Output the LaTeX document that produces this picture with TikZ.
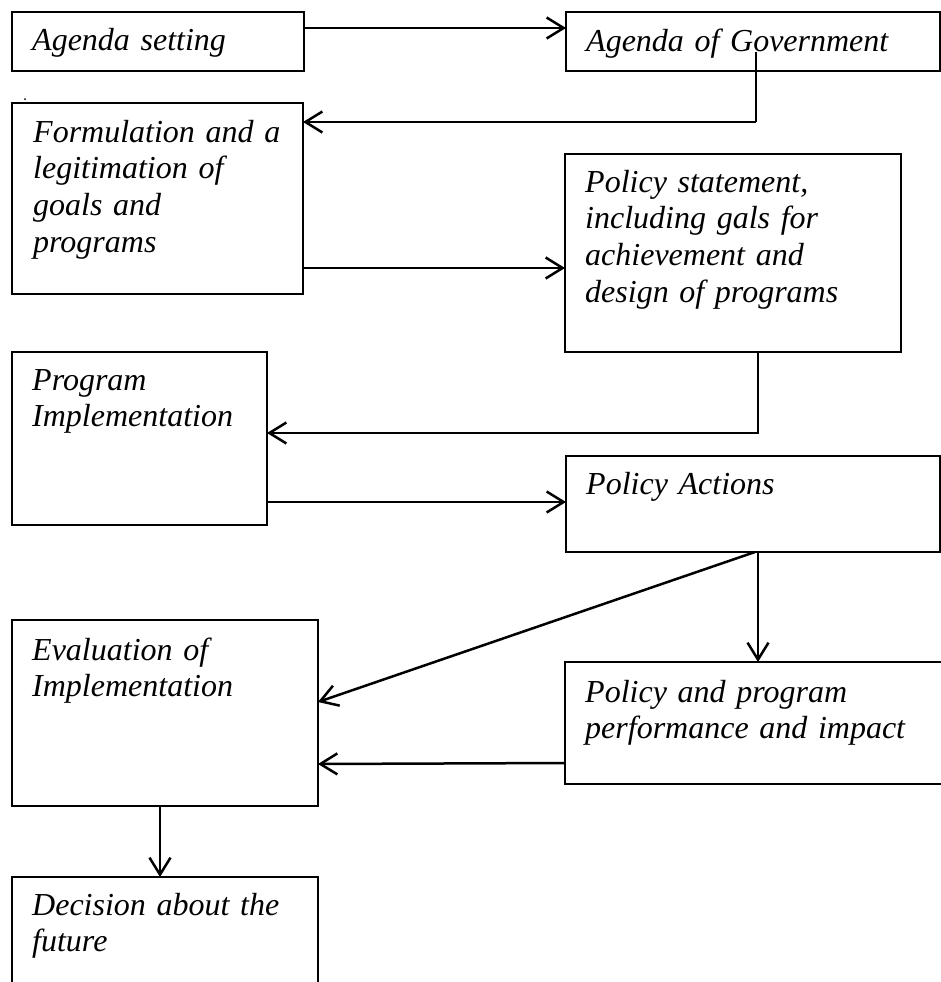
\documentclass[tikz,border=0pt]{standalone}
\usepackage{fontspec}
\setmainfont{Liberation Serif}
\usetikzlibrary{arrows.meta,calc}
\begin{document}
\begin{tikzpicture}[x=1pt,y=-1pt,
  box/.style={draw, line width=1.4pt, rectangle, inner sep=0pt, outer sep=0pt, anchor=north west},
  txt/.style={anchor=base west, inner sep=0pt, text width=420pt, align=left, font=\fontsize{32}{36.8}\selectfont\itshape},
  arr/.style={line width=2.5pt, -{Straight Barb[length=17pt,width=21pt]}},
  thinlink/.style={line width=1.5pt}]
\useasboundingbox (0,0) rectangle (941,982);
\clip (0,0) rectangle (941,982);
% boxes
\node[box, minimum width=292pt, minimum height=59pt]  (b1) at (12,12)  {};
\node[box, minimum width=374pt, minimum height=59pt]  (b2) at (566,12) {};
\node[box, minimum width=291pt, minimum height=191pt] (b3) at (12,103) {};
\node[box, minimum width=336pt, minimum height=198pt] (b4) at (565,154) {};
\node[box, minimum width=255pt, minimum height=173pt] (b5) at (12,352) {};
\node[box, minimum width=374pt, minimum height=96pt]  (b6) at (566,456) {};
\node[box, minimum width=400pt, minimum height=122pt] (b7) at (565,662) {};
\node[box, minimum width=306pt, minimum height=186pt] (b8) at (12,620) {};
\node[box, minimum width=306pt, minimum height=150pt] (b9) at (12,877) {};
% texts
\node[txt] (t1) at ($(b1.north west)+(20,39)$) {Agenda setting};
\node[txt] (t2) at ($(b2.north west)+(20,40)$) {Agenda of Government};
\node[txt] (t3) at ($(b3.north west)+(21,39)$) {Formulation and a\\legitimation of\\goals and\\programs};
\node[txt] (t4) at ($(b4.north west)+(20,38)$) {Policy statement,\\including gals for\\achievement and\\design of programs};
\node[txt] (t5) at ($(b5.north west)+(20,38)$) {Program\\Implementation};
\node[txt] (t6) at ($(b6.north west)+(20,38)$) {Policy Actions};
\node[txt] (t7) at ($(b7.north west)+(20,40)$) {Policy and program\\performance and impact};
\node[txt] (t8) at ($(b8.north west)+(20,40)$) {Evaluation of\\Implementation};
\node[txt] (t9) at ($(b9.north west)+(20,38)$) {Decision about the\\future};
% stray mark
\fill (25,99) circle (1pt);
% connectors
\draw[arr] ($(b1.north east)+(0,16)$) -- ($(b2.north west)+(0,16)$);
\coordinate (g1) at ($(b2.north west)+(190,40)$);
\coordinate (g2) at ($(b2.north west)+(190,110)$);
\draw[thinlink] (g1) -- (g2);
\draw[arr] (g2) -- (g2 -| b3.east);
\draw[arr] ($(b3.north east)+(0,165)$) -- ($(b4.north west)+(0,114)$);
\coordinate (p1) at ($(b4.south west)+(193,0)$);
\coordinate (p2) at ($(b4.south west)+(193,81)$);
\draw[arr] (p1) -- (p2) -- (p2 -| b5.east);
\draw[arr] ($(b5.north east)+(0,150)$) -- ($(b6.north west)+(0,46)$);
\coordinate (q1) at ($(b6.south west)+(192,0)$);
\draw[arr] (q1) -- (q1 |- b7.north);
\draw[arr] ($(b6.south west)+(189,0)$) -- ($(b8.north east)+(0,82)$);
\draw[arr] ($(b7.north west)+(0,101)$) -- ($(b8.north east)+(0,144)$);
\coordinate (r1) at ($(b8.south west)+(148,0)$);
\draw[arr] (r1) -- (r1 |- b9.north);
\end{tikzpicture}
\end{document}
